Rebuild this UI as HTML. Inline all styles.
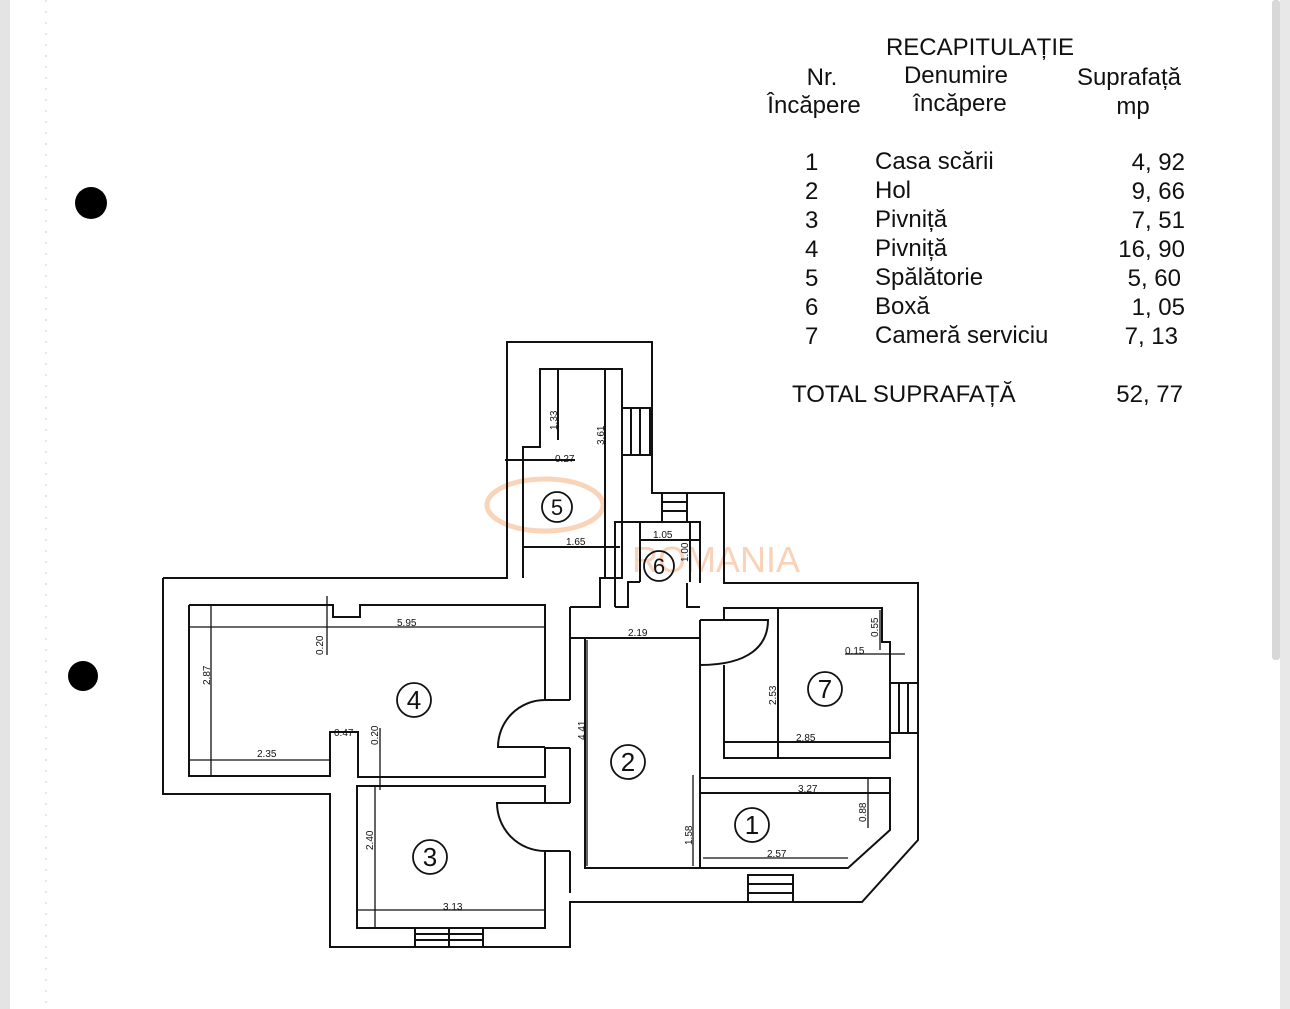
<!DOCTYPE html>
<html><head><meta charset="utf-8"><style>
html,body{margin:0;padding:0;background:#fff;}
svg{display:block;}
.t{font-family:"Liberation Sans",sans-serif;font-size:24px;fill:#111;}
.d{font-family:"Liberation Sans",sans-serif;font-size:10px;fill:#111;}
.n{font-family:"Liberation Sans",sans-serif;font-size:26px;fill:#111;}
</style></head><body>
<svg width="1290" height="1009" viewBox="0 0 1290 1009" xmlns="http://www.w3.org/2000/svg">
<rect width="1290" height="1009" fill="#fff"/>
<rect x="0" y="0" width="10" height="1009" fill="#e4e4e4"/>
<rect x="1280" y="0" width="10" height="1009" fill="#e8e8e8"/>
<rect x="1272" y="0" width="8" height="660" fill="#d8d8d8" rx="3"/>
<line x1="46" y1="0" x2="46" y2="1009" stroke="#ccc" stroke-width="1" stroke-dasharray="2 9"/>
<circle cx="91" cy="203" r="16" fill="#000"/>
<circle cx="83" cy="676" r="15" fill="#000"/>

<!-- table -->
<text class="t" x="980" y="55" text-anchor="middle">RECAPITULAȚIE</text>
<text class="t" x="822" y="85" text-anchor="middle">Nr.</text>
<text class="t" x="814" y="113" text-anchor="middle">Încăpere</text>
<text class="t" x="956" y="83" text-anchor="middle">Denumire</text>
<text class="t" x="960" y="111" text-anchor="middle">încăpere</text>
<text class="t" x="1129" y="85" text-anchor="middle">Suprafață</text>
<text class="t" x="1133" y="114" text-anchor="middle">mp</text>
<g class="t">
<text x="805" y="170">1</text><text x="875" y="169">Casa scării</text><text x="1185" y="170" text-anchor="end">4, 92</text>
<text x="805" y="199">2</text><text x="875" y="198">Hol</text><text x="1185" y="199" text-anchor="end">9, 66</text>
<text x="805" y="228">3</text><text x="875" y="227">Pivniță</text><text x="1185" y="228" text-anchor="end">7, 51</text>
<text x="805" y="257">4</text><text x="875" y="256">Pivniță</text><text x="1185" y="257" text-anchor="end">16, 90</text>
<text x="805" y="286">5</text><text x="875" y="285">Spălătorie</text><text x="1181" y="286" text-anchor="end">5, 60</text>
<text x="805" y="315">6</text><text x="875" y="314">Boxă</text><text x="1185" y="315" text-anchor="end">1, 05</text>
<text x="805" y="344">7</text><text x="875" y="343">Cameră serviciu</text><text x="1178" y="344" text-anchor="end">7, 13</text>
<text x="792" y="402">TOTAL SUPRAFAȚĂ</text><text x="1183" y="402" text-anchor="end">52, 77</text>
</g>

<!-- watermark -->
<ellipse cx="545" cy="505" rx="58" ry="26" fill="none" stroke="#f7c9a8" stroke-width="5" opacity="0.8"/>
<text x="632" y="572" font-family="Liberation Sans,sans-serif" font-size="36" fill="#f9d2b8">ROMANIA</text>

<g fill="none" stroke="#111" stroke-width="2">
<!-- outer wall -->
<polyline points="163,578 507,578 507,342 652,342 652,493 724,493 724,583 918,583 918,840 862,902 570,902 570,947 330,947 330,794 163,794 163,578"/>
<!-- room 4 -->
<polyline points="189,605 333,605 333,617 360,617 360,605 545,605 545,700"/>
<polyline points="545,748 545,777 358,777 358,732 330,732 330,776 189,776 189,605"/>
<path d="M545,700 A47,47 0 0 0 498,747 L545,747"/>
<!-- room 3 -->
<polyline points="545,803 545,786 357,786 357,928 545,928 545,852"/>
<path d="M570,803 L497,803 A48,48 0 0 0 545,851 L570,851"/>
<path d="M545,700 L570,700 M545,748 L570,748"/>
<rect x="415" y="928" width="68" height="19"/>
<line x1="449" y1="928" x2="449" y2="947"/>
<line x1="415" y1="934" x2="483" y2="934"/><line x1="415" y1="940" x2="483" y2="940"/>
<!-- wall chunk between 4 and hall -->
<polyline points="570,607 570,700"/>
<polyline points="570,748 570,803"/>
<polyline points="570,851 570,893"/>
<!-- hall -->
<polyline points="585,638 585,868 700,868"/>
<polyline points="570,638 700,638"/>
<line x1="700" y1="620" x2="700" y2="665"/>
<path d="M700,620 L768,620 C768,645 750,665 700,665"/>
<polyline points="700,665 700,868"/>
<!-- room 1 -->
<polyline points="700,778 890,778 890,830 848,868 700,868"/>
<line x1="700" y1="793" x2="890" y2="793"/>
<rect x="748" y="875" width="45" height="27"/>
<line x1="748" y1="884" x2="793" y2="884"/><line x1="748" y1="893" x2="793" y2="893"/>
<!-- room 7 -->
<polyline points="724,620 724,608 882,608 882,642 890,642 890,758 724,758 724,665"/>
<line x1="724" y1="742" x2="890" y2="742"/>
<line x1="778" y1="608" x2="778" y2="758"/>
<rect x="890" y="683" width="28" height="50"/>
<line x1="899" y1="683" x2="899" y2="733"/><line x1="908" y1="683" x2="908" y2="733"/>
<!-- tower / room 5 -->
<polyline points="523,578 523,447 540,447 540,369 622,369 622,578 600,578 600,607 570,607"/>
<line x1="523" y1="547" x2="620" y2="547"/>
<line x1="505" y1="460" x2="575" y2="460"/>
<line x1="605" y1="369" x2="605" y2="578"/>
<line x1="558" y1="369" x2="558" y2="440"/>
<rect x="622" y="408" width="28" height="47"/>
<line x1="631" y1="408" x2="631" y2="455"/><line x1="640" y1="408" x2="640" y2="455"/>
<!-- room 6 -->
<polyline points="615,607 615,522 700,522 700,583"/>
<rect x="662" y="493" width="25" height="29"/>
<line x1="662" y1="502" x2="687" y2="502"/><line x1="662" y1="511" x2="687" y2="511"/>
<line x1="640" y1="522" x2="640" y2="582"/>
<line x1="640" y1="540" x2="700" y2="540"/>
<line x1="690" y1="522" x2="690" y2="582"/>
<polyline points="687,583 687,607 700,607"/>
<polyline points="640,582 628,582 628,607 615,607"/>
<!-- dimension lines -->
<line x1="211" y1="605" x2="211" y2="776" stroke-width="1.3"/>
<line x1="190" y1="627" x2="545" y2="627" stroke-width="1.3"/>
<line x1="190" y1="760" x2="330" y2="760" stroke-width="1.3"/>
<line x1="327" y1="596" x2="327" y2="655" stroke-width="1.3"/>
<line x1="380" y1="728" x2="380" y2="790" stroke-width="1.3"/>
<line x1="375" y1="786" x2="375" y2="928" stroke-width="1.3"/>
<line x1="357" y1="910" x2="545" y2="910" stroke-width="1.3"/>
<line x1="587" y1="640" x2="587" y2="866" stroke-width="1.3"/>
<line x1="693" y1="775" x2="693" y2="866" stroke-width="1.3"/>
<line x1="703" y1="858" x2="848" y2="858" stroke-width="1.3"/>
<line x1="868" y1="778" x2="868" y2="828" stroke-width="1.3"/>
<line x1="880" y1="610" x2="880" y2="650" stroke-width="1.3"/>
<line x1="845" y1="654" x2="905" y2="654" stroke-width="1.3"/>
</g>
<g class="d">
<text x="397" y="626">5.95</text>
<text x="257" y="757">2.35</text>
<text x="334" y="736">0.47</text>
<text x="443" y="910">3.13</text>
<text x="628" y="636">2.19</text>
<text x="798" y="792">3.27</text>
<text x="767" y="857">2.57</text>
<text x="796" y="741">2.85</text>
<text x="845" y="654">0.15</text>
<text x="555" y="462">0.27</text>
<text x="566" y="545">1.65</text>
<text x="653" y="538">1.05</text>
<text transform="translate(210,685) rotate(-90)">2.87</text>
<text transform="translate(323,655) rotate(-90)">0.20</text>
<text transform="translate(378,745) rotate(-90)">0.20</text>
<text transform="translate(373,850) rotate(-90)">2.40</text>
<text transform="translate(585,740) rotate(-90)">4.41</text>
<text transform="translate(692,845) rotate(-90)">1.58</text>
<text transform="translate(866,822) rotate(-90)">0.88</text>
<text transform="translate(776,705) rotate(-90)">2.53</text>
<text transform="translate(878,637) rotate(-90)">0.55</text>
<text transform="translate(557,430) rotate(-90)">1.33</text>
<text transform="translate(604,445) rotate(-90)">3.61</text>
<text transform="translate(688,562) rotate(-90)">1.00</text>
</g>
<g fill="none" stroke="#111" stroke-width="1.8">
<circle cx="414" cy="700" r="17"/><circle cx="430" cy="857" r="17"/>
<circle cx="628" cy="762" r="17"/><circle cx="752" cy="825" r="17"/>
<circle cx="825" cy="689" r="17"/><circle cx="557" cy="507" r="15"/>
<circle cx="659" cy="566" r="15"/>
</g>
<g class="n" text-anchor="middle">
<text x="414" y="709">4</text><text x="430" y="866">3</text>
<text x="628" y="771">2</text><text x="752" y="834">1</text>
<text x="825" y="698">7</text>
<text x="557" y="515" font-size="22">5</text><text x="659" y="574" font-size="22">6</text>
</g>
</svg>
</body></html>
